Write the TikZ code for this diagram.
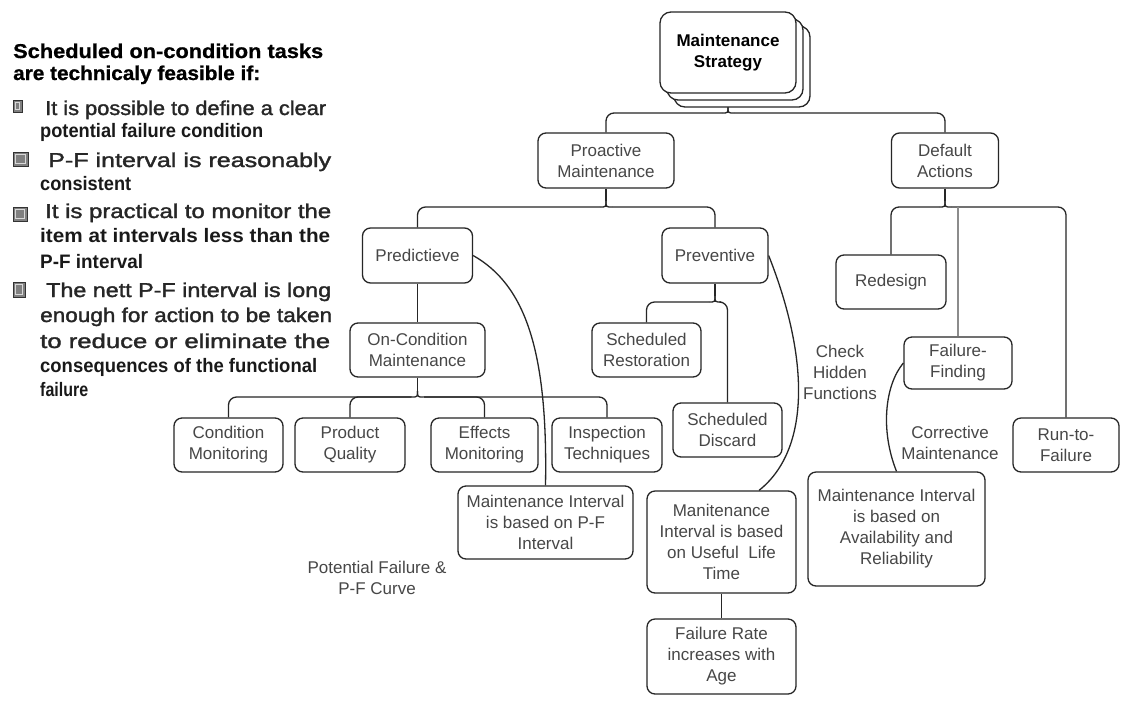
\documentclass[tikz,border=0pt]{standalone}
\usepackage{fontspec}
\setmainfont{Liberation Sans}
\newfontfamily\medfont[FakeBold=1.5]{Liberation Sans}
\newfontfamily\heavyfont[BoldFeatures={FakeBold=0.8}]{Liberation Sans}
\usepackage{graphicx}
\usetikzlibrary{backgrounds}

% squeeze or stretch one line of text to a given width (in pt)
\newlength\fitlen
\newcommand\fitto[2]{\settowidth{\fitlen}{#2}\pgfmathsetmacro\fitratio{#1/\fitlen}\scalebox{\fitratio}[1]{#2}}

% curly junction of a bracket: tip (#1), side points (#1L) and (#1R)
\newcommand\brcusp[3]{%
  \coordinate (#1) at (#2,#3-6);
  \coordinate (#1L) at (#2-6,#3);
  \coordinate (#1R) at (#2+6,#3);
  \draw[conn] (#1L) .. controls (#2,#3) .. (#1);
  \draw[conn] (#1R) .. controls (#2,#3) .. (#1);
}

\tikzset{
  box/.style={draw=black!85, line width=1.3pt, rounded corners=8pt, fill=white,
    align=center, inner sep=0pt, text=black!72, font=\fontsize{17}{21}\selectfont},
  stratbox/.style={box, rounded corners=11pt, minimum width=136pt, minimum height=81pt},
  lbl/.style={align=center, inner sep=0pt, text=black!72, font=\fontsize{17}{21}\selectfont},
  conn/.style={draw=black!85, line width=1.3pt},
  light/.style={draw=black!45, line width=1.8pt},
  titleline/.style={anchor=base west, inner sep=0pt, text=black,
    font=\fontsize{20}{22}\heavyfont\bfseries},
  boldline/.style={anchor=base west, inner sep=0pt, text=black!90,
    font=\fontsize{19.5}{22}\selectfont\bfseries},
  medline/.style={anchor=base west, inner sep=0pt, text=black!85,
    font=\fontsize{20}{22}\medfont},
  bulletbox/.style={draw=black!80, fill=black!50, line width=0.8pt, inner sep=0pt,
    path picture={\draw[black!15, line width=0.7pt]
      ([xshift=2.6pt,yshift=2.6pt]path picture bounding box.south west) rectangle
      ([xshift=-2.6pt,yshift=-2.6pt]path picture bounding box.north east);}},
}

\begin{document}
\begin{tikzpicture}[x=1pt,y=-1pt]
\useasboundingbox (0,0) rectangle (1121,702);

% ---------- conditions for on-condition tasks ----------
\node[titleline] (t1) at (13,58) {\fitto{310}{Scheduled on-condition tasks}};
\node[titleline] (t2) at (13,80) {\fitto{247}{are technicaly feasible if:}};

\node[bulletbox, minimum width=9pt, minimum height=12pt] (b1) at (17.5,106) {};
\node[medline] (l1) at (45,115) {\fitto{281}{It is possible to define a clear}};
\node[boldline] (l2) at (40,137) {\fitto{223}{potential failure condition}};

\node[bulletbox, minimum width=15pt, minimum height=14pt] (b2) at (20.5,159) {};
\node[medline] (l3) at (48,167) {\fitto{283}{P-F interval is reasonably}};
\node[boldline] (l4) at (40,190) {\fitto{91}{consistent}};

\node[bulletbox, minimum width=14pt, minimum height=14pt] (b3) at (20,214) {};
\node[medline] (l5) at (45,218) {\fitto{286}{It is practical to monitor the}};
\node[boldline] (l6) at (40,242) {\fitto{290}{item at intervals less than the}};
\node[boldline] (l7) at (40,268) {\fitto{103}{P-F interval}};

\node[bulletbox, minimum width=12pt, minimum height=15pt] (b4) at (19,289.5) {};
\node[medline] (l8) at (46,297) {\fitto{285}{The nett P-F interval is long}};
\node[medline] (l9) at (40,322) {\fitto{292}{enough for action to be taken}};
\node[medline] (l10) at (40,348) {\fitto{290}{to reduce or eliminate the}};
\node[boldline] (l11) at (40,372) {\fitto{277}{consequences of the functional}};
\node[boldline] (l12) at (40,396) {\fitto{48}{failure}};

% ---------- strategy tree ----------
\node[stratbox] (strat3) at (742,66.5) {};
\node[stratbox] (strat2) at (735,59.5) {};
\node[stratbox, text=black, font=\fontsize{17}{21}\selectfont\bfseries] (strat) at (728,52.5) {Maintenance\\Strategy};

\node[box, minimum width=136pt, minimum height=55pt] (proact) at (606,160.5) {Proactive\\Maintenance};
\node[box, minimum width=107pt, minimum height=55pt] (default) at (945,160.5) {Default\\Actions};

\node[box, minimum width=110pt, minimum height=55pt] (pred) at (417.5,255.5) {Predictieve};
\node[box, minimum width=106pt, minimum height=55pt] (prev) at (715,255.5) {Preventive};
\node[box, minimum width=110pt, minimum height=54pt] (redesign) at (891,282) {Redesign};

\node[box, minimum width=135pt, minimum height=54pt] (oncond) at (417.5,350) {On-Condition\\Maintenance};
\node[box, minimum width=109pt, minimum height=54pt] (schrest) at (646.5,350) {Scheduled\\Restoration};
\node[box, minimum width=109pt, minimum height=54pt] (schdisc) at (727.5,430) {Scheduled\\Discard};
\node[box, minimum width=108pt, minimum height=52pt] (failfind) at (958,363) {Failure-\\Finding};

\node[box, minimum width=109pt, minimum height=54pt] (condmon) at (228.5,445) {Condition\\Monitoring};
\node[box, minimum width=110pt, minimum height=54pt] (prodq) at (350,445) {Product\\Quality};
\node[box, minimum width=107pt, minimum height=54pt] (effmon) at (484.5,445) {Effects\\Monitoring};
\node[box, minimum width=110pt, minimum height=54pt] (insp) at (607,445) {Inspection\\Techniques};
\node[box, minimum width=106pt, minimum height=54pt] (runfail) at (1066,445) {Run-to-\\Failure};

\node[box, minimum width=175pt, minimum height=73pt] (mipf) at (545.5,522.5) {Maintenance Interval\\is based on P-F\\Interval};
\node[box, minimum width=149pt, minimum height=102pt] (miul) at (721.5,542) {Manitenance\\Interval is based\\on Useful\ \ Life\\Time};
\node[box, minimum width=149pt, minimum height=75pt] (frate) at (721.5,656.5) {Failure Rate\\increases with\\Age};
\node[box, minimum width=177pt, minimum height=114pt] (miar) at (896.5,529) {Maintenance Interval\\is based on\\Availability and\\Reliability};

\node[lbl] (pfcurve) at (377,578) {Potential Failure \&\\P-F Curve};
\node[lbl] (hidden) at (840,372) {Check\\Hidden\\Functions};
\node[lbl] (corrective) at (950,443) {Corrective\\Maintenance};

% ---------- connectors ----------
\begin{pgfonlayer}{background}
\fill[white] (0,0) rectangle (1121,702);

\brcusp{cA}{728}{113}
\draw[conn] (strat.south) -- (cA);
\draw[conn, rounded corners=8pt] (cAL) -| (proact.north);
\draw[conn, rounded corners=8pt] (cAR) -| (default.north);

\brcusp{cB}{606}{207}
\draw[conn] (proact.south) -- (cB);
\draw[conn, rounded corners=8pt] (cBL) -| (pred.north);
\draw[conn, rounded corners=8pt] (cBR) -| (prev.north);

\brcusp{cC}{945}{207}
\draw[conn] (default.south) -- (cC);
\draw[conn, rounded corners=8pt] (cCL) -| (redesign.north);
\draw[conn, rounded corners=8pt] (cCR) -| (runfail.north);
\coordinate (cCM) at (failfind.north |- cCR);
\draw[light] (cCM) -- (failfind.north);

\draw[conn] (pred.south) -- (oncond.north);

\brcusp{cE}{715}{302}
\draw[conn] (prev.south) -- (cE);
\draw[conn, rounded corners=8pt] (cEL) -| (schrest.north);
\draw[conn, rounded corners=8pt] (cER) -| (schdisc.north);

\brcusp{cF}{417.5}{397}
\draw[conn] (oncond.south) -- (cF);
\draw[conn, rounded corners=8pt] (cFL) -| (condmon.north);
\draw[conn, rounded corners=8pt] (cFL) -| (prodq.north);
\draw[conn, rounded corners=8pt] (cFR) -| (effmon.north);
\draw[conn, rounded corners=8pt] (cFR) -| (insp.north);

\draw[conn] (miul.south) -- (frate.north);

\draw[conn] (pred.east) .. controls (525,285) and (548,350) .. (mipf.north);
\draw[conn] (prev.east) .. controls (810,360) and (810,450) .. (miul.54);
\draw[conn] (failfind.west) .. controls (885,385) and (880,430) .. (miar.north);
\end{pgfonlayer}
\end{tikzpicture}
\end{document}
